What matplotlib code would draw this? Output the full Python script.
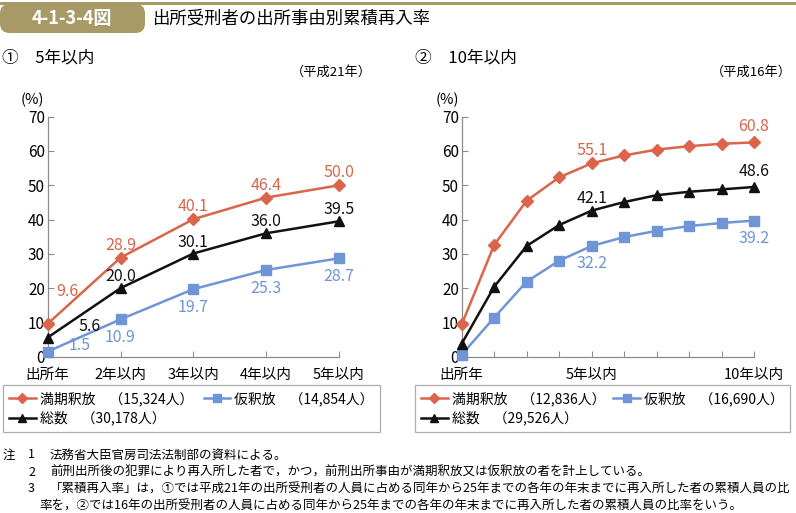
import matplotlib
matplotlib.use("Agg")
import matplotlib.pyplot as plt
from matplotlib.patches import Rectangle, FancyBboxPatch
from matplotlib.lines import Line2D

plt.rcParams['font.family'] = ['Noto Sans CJK JP', 'DejaVu Sans']

# ---- data ----
cats_5 = ["出所年", "2年以内", "3年以内", "4年以内", "5年以内"]
expiry_5 = [9.6, 28.9, 40.1, 46.4, 50.0]
parole_5 = [1.5, 10.9, 19.7, 25.3, 28.7]
total_5 = [5.6, 20.0, 30.1, 36.0, 39.5]

cats_10 = ["出所年", "", "", "", "5年以内", "", "", "", "", "10年以内"]
expiry_10 = [9.4, 32.6, 45.5, 52.3, 56.4, 58.7, 60.4, 61.4, 62.1, 62.5]
parole_10 = [0.6, 11.4, 21.9, 28.0, 32.3, 34.9, 36.7, 38.1, 39.0, 39.7]
total_10 = [3.8, 20.4, 32.3, 38.4, 42.6, 45.1, 47.1, 48.1, 48.8, 49.5]
# printed labels on panel 2 (index -> text)
expiry_10_lbl = {4: "55.1", 9: "60.8"}
parole_10_lbl = {4: "32.2", 9: "39.2"}
total_10_lbl = {4: "42.1", 9: "48.6"}

legend_5 = ["満期釈放　（15,324人）", "総数　（30,178人）", "仮釈放　（14,854人）"]
legend_10 = ["満期釈放　（12,836人）", "総数　（29,526人）", "仮釈放　（16,690人）"]

notes = [
    "法務省大臣官房司法法制部の資料による。",
    "前刑出所後の犯罪により再入所した者で，かつ，前刑出所事由が満期釈放又は仮釈放の者を計上している。",
    "「累積再入率」は，①では平成21年の出所受刑者の人員に占める同年から25年までの各年の年末までに再入所した者の累積人員の比",
    "率を，②では16年の出所受刑者の人員に占める同年から25年までの各年の年末までに再入所した者の累積人員の比率をいう。",
]

RED = "#da654b"
BLUE = "#6f95d6"
BLACK = "#111111"
GOLD = "#a89a67"
GRAY = "#8c8c8c"

W, H = 796, 513


def fx(x):
    return x / W


def fy(y):
    return 1 - y / H


fig = plt.figure(figsize=(W / 100, H / 100), dpi=100)

# ---- header ----
fig.add_artist(Rectangle((0, fy(4.5)), 1, 2.2 / H, transform=fig.transFigure,
                         color=GOLD, lw=0))
fig.add_artist(FancyBboxPatch((fx(0), fy(33)), fx(145), 29 / H,
                              boxstyle="round,pad=0,rounding_size=0.012",
                              transform=fig.transFigure, color=GOLD, lw=0,
                              mutation_aspect=W / H))
fig.text(fx(72), fy(18.5), "4-1-3-4図", color="white", fontsize=13, weight="bold",
         ha="center", va="center")
fig.text(fx(152), fy(18.5), "出所受刑者の出所事由別累積再入率", fontsize=12.5,
         ha="left", va="center")

# ---- subtitles ----
fig.text(fx(2), fy(58), "①　5年以内", fontsize=12, ha="left", va="center")
fig.text(fx(372), fy(72), "（平成21年）", fontsize=9.5, ha="right", va="center")
fig.text(fx(415), fy(58), "②　10年以内", fontsize=12, ha="left", va="center")
fig.text(fx(792), fy(72), "（平成16年）", fontsize=9.5, ha="right", va="center")


def style_axes(ax, n, cats):
    ax.set_xlim(0, n - 1)
    ax.set_ylim(0, 70)
    ax.set_yticks(range(0, 71, 10))
    ax.set_xticks(range(n))
    ax.set_xticklabels(cats)
    for s in ("top", "right"):
        ax.spines[s].set_visible(False)
    for s in ("left", "bottom"):
        ax.spines[s].set_color(GRAY)
        ax.spines[s].set_linewidth(0.9)
    ax.tick_params(direction="in", length=4, width=0.8, color=GRAY)
    ax.tick_params(axis="y", labelsize=11, pad=2)
    ax.tick_params(axis="x", labelsize=10.5, pad=8)


def plot_series(ax, y, color, marker, ms):
    x = list(range(len(y)))
    ax.plot(x, y, color=color, marker=marker, ms=ms, lw=1.8, clip_on=False, zorder=3)


def label(ax, i, v, text, color, dx, dy):
    ax.annotate(text, (i, v), xytext=(dx, dy), textcoords="offset points",
                ha="center", va="center", color=color, fontsize=11.5)


# ---- panel 1 ----
ax1 = fig.add_axes([fx(47.7), fy(356.7), fx(339) - fx(47.7), fy(116.7) - fy(356.7)])
style_axes(ax1, len(cats_5), cats_5)
plot_series(ax1, parole_5, BLUE, "s", 6.5)
plot_series(ax1, total_5, BLACK, "^", 6.5)
plot_series(ax1, expiry_5, RED, "D", 6.5)
fig.text(fx(32), fy(100), "(%)", fontsize=10.5, ha="center", va="center")

p = 1 / 1.389
for i, v in enumerate(expiry_5):
    dx, dy = (20, 32) if i == 0 else (0, 12.5)
    label(ax1, i, v, f"{v:.1f}", RED, dx * p, dy * p)
for i, v in enumerate(total_5):
    dx, dy = (42, 11) if i == 0 else (0, 11.5)
    label(ax1, i, v, f"{v:.1f}", BLACK, dx * p, dy * p)
for i, v in enumerate(parole_5):
    dx, dy = (32, 6) if i == 0 else (0, -18.5)
    label(ax1, i, v, f"{v:.1f}", BLUE, dx * p, dy * p)

# ---- panel 2 ----
ax2 = fig.add_axes([fx(461.7), fy(356.7), fx(754) - fx(461.7), fy(116.7) - fy(356.7)])
style_axes(ax2, len(cats_10), cats_10)
plot_series(ax2, parole_10, BLUE, "s", 6.5)
plot_series(ax2, total_10, BLACK, "^", 6.5)
plot_series(ax2, expiry_10, RED, "D", 6.5)
fig.text(fx(447), fy(100), "(%)", fontsize=10.5, ha="center", va="center")

for i, t in expiry_10_lbl.items():
    label(ax2, i, expiry_10[i], t, RED, 0, (12.5 if i == 4 else 16) * p)
for i, t in total_10_lbl.items():
    label(ax2, i, total_10[i], t, BLACK, 0, (12.5 if i == 4 else 15) * p)
for i, t in parole_10_lbl.items():
    label(ax2, i, parole_10[i], t, BLUE, 0, -17.5 * p)


# ---- legends ----
def make_legend(x0, x1, names):
    handles = [
        Line2D([], [], color=RED, marker="D", ms=5.5, lw=1.8),
        Line2D([], [], color=BLACK, marker="^", ms=5.5, lw=1.8),
        Line2D([], [], color=BLUE, marker="s", ms=5.5, lw=1.8),
    ]
    leg = fig.legend(handles, names, loc="upper left", ncol=2, mode="expand",
                     bbox_to_anchor=(fx(x0), fy(434), fx(x1) - fx(x0), fy(385) - fy(434)),
                     fontsize=10, frameon=True, fancybox=False, borderpad=0.45,
                     handlelength=1.9, handletextpad=0.3, labelspacing=0.35,
                     borderaxespad=0)
    leg.get_frame().set_edgecolor("#9a9a9a")
    leg.get_frame().set_linewidth(0.9)
    return leg


make_legend(3, 380, legend_5)
make_legend(415, 790, legend_10)

# ---- notes ----
fs = 9.0
fig.text(fx(3), fy(455), "注", fontsize=fs, ha="left", va="center")
for k, (yy, t) in enumerate(zip([455, 472, 489], notes[:3])):
    fig.text(fx(28), fy(yy), str(k + 1), fontsize=fs, ha="left", va="center")
    fig.text(fx(50), fy(yy), t, fontsize=fs, ha="left", va="center")
fig.text(fx(39), fy(506), notes[3], fontsize=fs, ha="left", va="center")

fig.savefig("out.png", dpi=100)
